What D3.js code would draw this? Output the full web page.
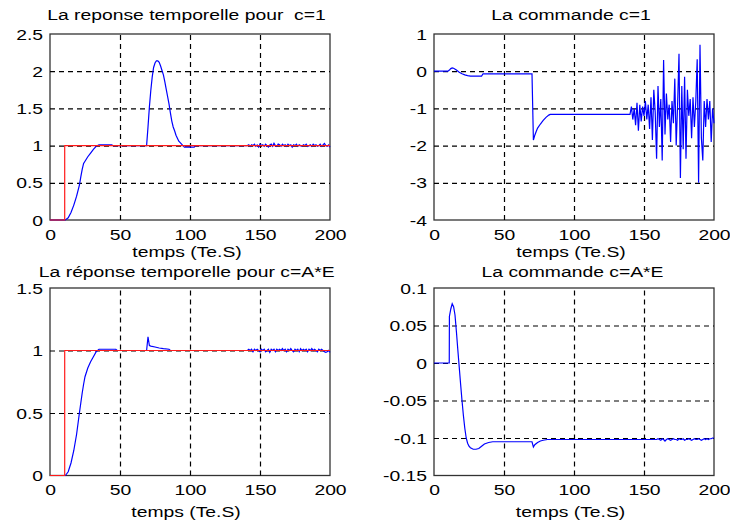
<!DOCTYPE html>
<html><head><meta charset="utf-8">
<script src="https://cdn.jsdelivr.net/npm/d3@7"></script>
<style>
body{margin:0;background:#fff}
svg{display:block}
text{font-family:"Liberation Sans",Arial,sans-serif;font-size:14px;fill:#000;white-space:pre}
</style>
</head><body>
<svg id="c" width="730" height="524"></svg>
<script>
// ---------- data ----------
const xTicks = [0, 50, 100, 150, 200];
const xTickLabels = ["0", "50", "100", "150", "200"];
const xLabel = "temps (Te.S)";

const titles = ["La reponse temporelle pour  c=1", "La commande c=1",
                "La réponse temporelle pour c=A*E", "La commande c=A*E"];

const y1Ticks = [0, 0.5, 1, 1.5, 2, 2.5];
const y1Labels = ["0", "0.5", "1", "1.5", "2", "2.5"];
const y2Ticks = [-4, -3, -2, -1, 0, 1];
const y2Labels = ["-4", "-3", "-2", "-1", "0", "1"];
const y3Ticks = [0, 0.5, 1, 1.5];
const y3Labels = ["0", "0.5", "1", "1.5"];
const y4Ticks = [-0.15, -0.1, -0.05, 0, 0.05, 0.1];
const y4Labels = ["-0.15", "-0.1", "-0.05", "0", "0.05", "0.1"];

// reference (consigne)
const refT = [0, 10.5, 10.5, 200];
const refY = [0, 0, 1, 1];

// sample times of the noisy final part
const noiseT = [141,142,143,144,145,146,147,148,149,150,
                151,152,153,154,155,156,157,158,159,160,
                161,162,163,164,165,166,167,168,169,170,
                171,172,173,174,175,176,177,178,179,180,
                181,182,183,184,185,186,187,188,189,190,
                191,192,193,194,195,196,197,198,199,200];

// response c=1
const resp1T = [0, 11, 13, 15, 17, 19, 21, 22, 23, 24, 25, 27, 29, 31, 33, 35, 44, 45,
  69, 70, 71, 72, 73, 74, 75, 76, 77, 78, 79, 80, 81, 82, 83, 84, 85, 86, 87, 88, 89, 90, 91, 92, 93, 94, 95, 96,
  103, 104, 140];
const resp1Y = [0, 0, 0.03, 0.1, 0.2, 0.32, 0.47, 0.58, 0.68, 0.76, 0.79, 0.85, 0.9, 0.95, 0.99, 1.01, 1.01, 1.0,
  1.0, 1.25, 1.52, 1.74, 1.92, 2.05, 2.11, 2.14, 2.14, 2.12, 2.07, 2.01, 1.95, 1.86, 1.76, 1.66, 1.56, 1.44, 1.33, 1.25, 1.2, 1.14, 1.1, 1.06, 1.04, 1.02, 1.0, 0.98,
  0.98, 1.0, 1.0];
const resp1Noise = [1.0, 1.01, 0.99, 1.01, 1.0, 1.02, 0.99, 1.01, 0.98, 1.02,
  1.0, 1.01, 0.99, 1.02, 1.0, 0.98, 1.01, 1.02, 0.99, 1.03,
  1.0, 0.99, 1.02, 1.01, 0.99, 1.02, 1.0, 1.01, 0.99, 1.02,
  1.0, 1.01, 0.98, 1.01, 1.0, 1.02, 0.99, 1.01, 1.0, 0.99,
  1.01, 1.0, 1.02, 0.99, 1.0, 1.01, 0.99, 1.02, 1.0, 1.01,
  0.99, 1.0, 1.02, 0.99, 1.01, 1.03, 1.0, 0.99, 1.01, 0.98];

// command c=1
const cmd1T = [0, 10, 11, 12, 13, 14, 16, 18, 20, 22, 24, 26, 34, 35, 70, 71, 72, 73, 74, 76, 78, 80, 82, 83, 140];
const cmd1Y = [0, 0, 0.03, 0.07, 0.09, 0.08, 0.03, -0.03, -0.07, -0.1, -0.12, -0.13, -0.13, -0.07, -0.07,
  -1.85, -1.72, -1.62, -1.53, -1.42, -1.32, -1.24, -1.18, -1.16, -1.16];
const cmd1Noise = [-0.95, -1.3, -1.0, -1.45, -0.85, -1.6, -0.9, -1.35, -0.95, -1.2,
  -0.8, -1.3, -0.9, -1.55, -0.7, -1.85, -0.5, -1.1, -2.35, -0.4,
  -1.5, -0.75, -2.4, 0.3, -1.7, -0.6, -1.3, -0.9, -1.9, -0.8,
  -1.4, -0.2, -2.0, -0.9, 0.47, -2.87, -0.4, -2.1, -0.15, -2.35,
  -0.5, -1.2, -0.75, -1.8, -0.7, -1.5, -0.8, 0.32, -3.0, 0.71,
  -1.8, -2.4, -0.8, -1.5, -0.75, -1.3, -0.8, -1.9, -1.0, -1.4];

// response c=A*E
const resp2T = [0, 11, 13, 15, 17, 19, 21, 22, 23, 24, 25, 27, 29, 31, 33, 35, 47, 48,
  69, 70, 71, 72, 75, 78, 81, 85, 86, 140];
const resp2Y = [0, 0, 0.03, 0.1, 0.2, 0.33, 0.5, 0.58, 0.66, 0.73, 0.79, 0.86, 0.91, 0.95, 0.99, 1.01, 1.01, 1.0,
  1.0, 1.11, 1.04, 1.035, 1.028, 1.02, 1.015, 1.01, 1.0, 1.0];
const resp2Noise = [1.0, 1.01, 1.0, 1.01, 0.99, 1.01, 1.0, 1.01, 1.0, 0.99,
  1.01, 1.0, 1.01, 0.99, 1.0, 1.01, 0.985, 1.01, 1.0, 1.01,
  0.99, 1.01, 1.0, 1.01, 1.0, 1.015, 1.0, 1.01, 0.99, 1.01,
  1.0, 1.015, 1.0, 0.99, 1.01, 1.0, 1.01, 0.99, 1.015, 1.0,
  1.01, 1.0, 1.01, 0.99, 1.01, 1.0, 1.015, 1.0, 1.01, 1.0,
  0.99, 1.01, 1.0, 1.01, 1.0, 0.99, 0.985, 0.99, 1.0, 0.985];

// command c=A*E
const cmd2T = [0, 10.9, 11, 12, 13, 14, 15, 16, 17, 18, 19, 20, 21, 22, 23, 24, 25, 26,
  28, 30, 32, 34, 36, 39, 42, 70, 71, 72, 74, 76, 78, 81, 140];
const cmd2Y = [0, 0, 0.062, 0.072, 0.079, 0.075, 0.064, 0.042, 0.018, -0.005, -0.028, -0.05, -0.07, -0.087, -0.1, -0.107, -0.111, -0.113,
  -0.115, -0.115, -0.114, -0.111, -0.108, -0.106, -0.105, -0.105, -0.112, -0.109, -0.106, -0.104, -0.103, -0.102, -0.102];
const cmd2Noise = [-0.102, -0.102, -0.102, -0.102, -0.102, -0.102, -0.102, -0.102, -0.102, -0.102,
  -0.102, -0.102, -0.102, -0.102, -0.102, -0.102, -0.102, -0.102, -0.102, -0.101,
  -0.102, -0.103, -0.101, -0.102, -0.104, -0.102, -0.101, -0.102, -0.103, -0.102,
  -0.101, -0.102, -0.102, -0.103, -0.101, -0.102, -0.102, -0.101, -0.103, -0.102,
  -0.102, -0.101, -0.102, -0.103, -0.102, -0.101, -0.102, -0.102, -0.101, -0.102,
  -0.103, -0.102, -0.101, -0.102, -0.101, -0.102, -0.101, -0.101, -0.1, -0.1];

// ---------- drawing ----------
const SX = 1.38;
const svg = d3.select("#c");
svg.append("rect").attr("width", 730).attr("height", 524).attr("fill", "#fff");

function zip(t, y) { return t.map((d, i) => [d, y[i]]); }

function stretched(g, x, y, str, anchor) {
  g.append("text")
    .attr("transform", `translate(${x},${y}) scale(${SX},1)`)
    .attr("text-anchor", anchor)
    .attr("xml:space", "preserve")
    .text(str);
}

const panels = [
  {l: 50, r: 330, t: 34, b: 220, yDom: [0, 2.5], yTicks: y1Ticks, yLabels: y1Labels, title: titles[0],
   tx: 186.5, ty: 20, lx: 187, ly: 257, blue: zip(resp1T.concat(noiseT), resp1Y.concat(resp1Noise)), red: zip(refT, refY)},
  {l: 434, r: 714, t: 34, b: 220, yDom: [-4, 1], yTicks: y2Ticks, yLabels: y2Labels, title: titles[1],
   tx: 571, ty: 20, lx: 571, ly: 257, blue: zip(cmd1T.concat(noiseT), cmd1Y.concat(cmd1Noise)), red: null},
  {l: 50, r: 330, t: 288, b: 475.5, yDom: [0, 1.5], yTicks: y3Ticks, yLabels: y3Labels, title: titles[2],
   tx: 186.7, ty: 276.5, lx: 186, ly: 516.5, blue: zip(resp2T.concat(noiseT), resp2Y.concat(resp2Noise)), red: zip(refT, refY)},
  {l: 434, r: 714, t: 288, b: 475.5, yDom: [-0.15, 0.1], yTicks: y4Ticks, yLabels: y4Labels, title: titles[3],
   tx: 572.5, ty: 276.5, lx: 570.5, ly: 516.5, blue: zip(cmd2T.concat(noiseT), cmd2Y.concat(cmd2Noise)), red: null}
];

panels.forEach((p, k) => {
  const x = d3.scaleLinear().domain([0, 200]).range([p.l, p.r]);
  const y = d3.scaleLinear().domain(p.yDom).range([p.b, p.t]);
  const g = svg.append("g");

  // frame
  g.append("rect").attr("x", p.l).attr("y", p.t).attr("width", p.r - p.l).attr("height", p.b - p.t)
    .attr("fill", "none").attr("stroke", "#333").attr("stroke-width", 1.3);

  // grid
  const xg = xTicks.filter(d => d > 0 && d < 200);
  const yg = p.yTicks.filter(d => d > p.yDom[0] && d < p.yDom[1]);
  g.append("g").attr("transform", `translate(0,${p.b})`)
    .call(d3.axisBottom(x).tickValues(xg).tickSize(-(p.b - p.t)).tickFormat(""))
    .call(a => a.select(".domain").remove())
    .selectAll("line").attr("stroke", "#000").attr("stroke-width", 1.2).attr("stroke-dasharray", "5,4");
  g.append("g").attr("transform", `translate(${p.l},0)`)
    .call(d3.axisLeft(y).tickValues(yg).tickSize(-(p.r - p.l)).tickFormat(""))
    .call(a => a.select(".domain").remove())
    .selectAll("line").attr("stroke", "#000").attr("stroke-width", 1.2).attr("stroke-dasharray", "5,4");

  // x axis labels
  const ax = g.append("g").attr("transform", `translate(0,${p.b})`)
    .call(d3.axisBottom(x).tickValues(xTicks).tickSize(0).tickFormat((d, i) => xTickLabels[i]));
  ax.attr("font-size", 14).attr("font-family", '"Liberation Sans", Arial, sans-serif');
  ax.select(".domain").remove();
  ax.selectAll("text").attr("y", 20).attr("dy", null).attr("transform", `scale(${SX},1)`).attr("fill", "#000");

  // y axis labels
  const ay = g.append("g").attr("transform", `translate(${p.l},0)`)
    .call(d3.axisLeft(y).tickValues(p.yTicks).tickSize(0).tickFormat((d, i) => p.yLabels[i]));
  ay.attr("font-size", 14).attr("font-family", '"Liberation Sans", Arial, sans-serif');
  ay.select(".domain").remove();
  ay.selectAll("text").attr("x", -7 / SX).attr("dy", "0.36em").attr("transform", `scale(${SX},1)`).attr("fill", "#000");

  // clip
  const cid = "clip" + k;
  svg.append("clipPath").attr("id", cid).append("rect")
    .attr("x", p.l - 1).attr("y", p.t - 1).attr("width", p.r - p.l + 2).attr("height", p.b - p.t + 2);

  const line = d3.line().x(d => x(d[0])).y(d => y(d[1]));
  const lg = g.append("g").attr("clip-path", `url(#${cid})`);
  lg.append("path").datum(p.blue).attr("d", line).attr("fill", "none")
    .attr("stroke", "#0000ff").attr("stroke-width", 1.2);
  if (p.red) {
    lg.append("path").datum(p.red).attr("d", line).attr("fill", "none")
      .attr("stroke", "#ff1a1a").attr("stroke-width", 1.2);
  }

  // titles / labels
  stretched(g, p.tx, p.ty, p.title, "middle");
  stretched(g, p.lx, p.ly, xLabel, "middle");
});
</script>
</body></html>
